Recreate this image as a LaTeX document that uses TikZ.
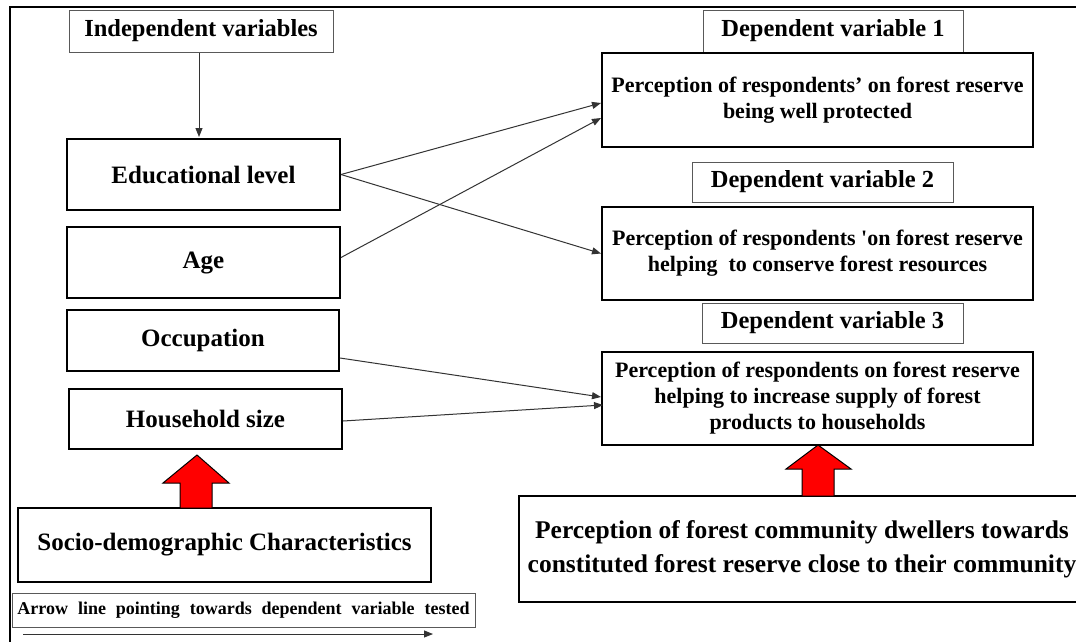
\documentclass[tikz,border=0pt]{standalone}
\usepackage{fontspec}
\setmainfont{Liberation Serif}
\newfontfamily\legendfont[WordSpace=2.2]{Liberation Serif}
\usetikzlibrary{arrows.meta,calc}
\begin{document}
\begin{tikzpicture}[x=1pt,y=-1pt,
  box/.style={draw=black,line width=2pt,inner sep=0pt,align=center,font=\fontsize{25}{30}\selectfont\bfseries},
  dvbox/.style={draw=black,line width=2pt,inner sep=0pt,align=center,font=\fontsize{22}{26}\selectfont\bfseries},
  bigbox/.style={draw=black,line width=2pt,inner sep=0pt,align=center,font=\fontsize{25.5}{34}\selectfont\bfseries},
  lab/.style={draw=black!65,line width=1pt,inner sep=0pt,align=center,font=\fontsize{24.5}{29}\selectfont\bfseries},
  legendbox/.style={draw=black!65,line width=1pt,inner sep=0pt,align=center,font=\legendfont\fontsize{18}{22}\selectfont\bfseries},
  conn/.style={draw=black!80,line width=1pt,-{Triangle[length=9pt,width=7pt]}},
  redarrow/.style={fill=red,draw=black,line width=1pt,line join=miter}]
\useasboundingbox (0,0) rectangle (1076,641);
\clip (0,0) rectangle (1076,641);
\fill[white] (0,0) rectangle (1076,641);
% outer frame (only top and left visible)
\draw[line width=2.5pt] (10,700) -- (10,7) -- (1100,7);

% left column
\node[lab, minimum width=264pt, minimum height=42pt] (indep) at (201,31) {Independent variables};
\node[box, minimum width=273pt, minimum height=71pt] (edu) at (203.5,174.5) {Educational level};
\node[box, minimum width=273pt, minimum height=71pt] (age) at (203.5,262.5) {Age};
\node[box, minimum width=272pt, minimum height=61pt] (occ) at (203,340.5) {Occupation};
\node[box, minimum width=273pt, minimum height=60pt] (hh) at (205.5,419) {Household size};
\node[box, minimum width=413pt, minimum height=74pt] (socio) at (224.5,545) {Socio-demographic Characteristics};
\node[legendbox, minimum width=463pt, minimum height=34pt] (legend) at (243.5,610) {Arrow line pointing towards dependent variable tested};

% right column
\node[lab, minimum width=260pt, minimum height=42pt] (dv1lab) at (833,31) {Dependent variable 1};
\node[dvbox, minimum width=431pt, minimum height=94pt] (dv1) at (817.5,100) {Perception of respondents’ on forest reserve\\being well protected};
\node[lab, minimum width=261pt, minimum height=40pt] (dv2lab) at (822.5,182) {Dependent variable 2};
\node[dvbox, minimum width=431pt, minimum height=93pt] (dv2) at (817.5,253.5) {Perception of respondents \textquotesingle on forest reserve\\helping\ \ to conserve forest resources};
\node[lab, minimum width=261pt, minimum height=40pt] (dv3lab) at (832.5,323) {Dependent variable 3};
\node[dvbox, minimum width=431pt, minimum height=93pt] (dv3) at (817.5,398) {Perception of respondents on forest reserve\\helping to increase supply of forest\\products to households};
\node[bigbox, minimum width=566pt, minimum height=106pt] (dwell) at (802,549) {Perception of forest community dwellers towards\\constituted forest reserve close to their community};

% connector end points
\coordinate (edua) at (edu.east);
\coordinate (agea) at ($(age.east)+(0,-5)$);
\coordinate (occa) at ($(occ.east)+(0,17.5)$);
\coordinate (hha) at ($(hh.east)+(0,2)$);
\coordinate (dv1a) at ($(dv1.west)+(0,3)$);
\coordinate (dv1b) at ($(dv1.west)+(0,18)$);
\coordinate (dv3a) at ($(dv3.west)+(0,-1)$);
\coordinate (dv3b) at ($(dv3.west)+(2,7)$);

% connectors
\draw[conn] ($(indep.south)+(-2,0)$) -- ($(indep.south |- edu.north)+(-2,-1)$);
\draw[conn] (edua) -- (dv1a);
\draw[conn] (edua) -- (dv2.west);
\draw[conn] (agea) -- (dv1b);
\draw[conn] (occa) -- (dv3a);
\draw[conn] (hha) -- (dv3b);

% red block arrows
\draw[redarrow] (180,508) -- (180,483) -- (163,483) -- (197,455) -- (229,483) -- (212,483) -- (212,508) -- cycle;
\draw[redarrow] (802,496) -- (802,469) -- (786,469) -- (818,445) -- (851,469) -- (834,469) -- (834,496) -- cycle;

% legend arrow
\coordinate (la) at (23,634);
\coordinate (lb) at (433,634);
\draw[conn] (la) -- (lb);
\end{tikzpicture}
\end{document}
